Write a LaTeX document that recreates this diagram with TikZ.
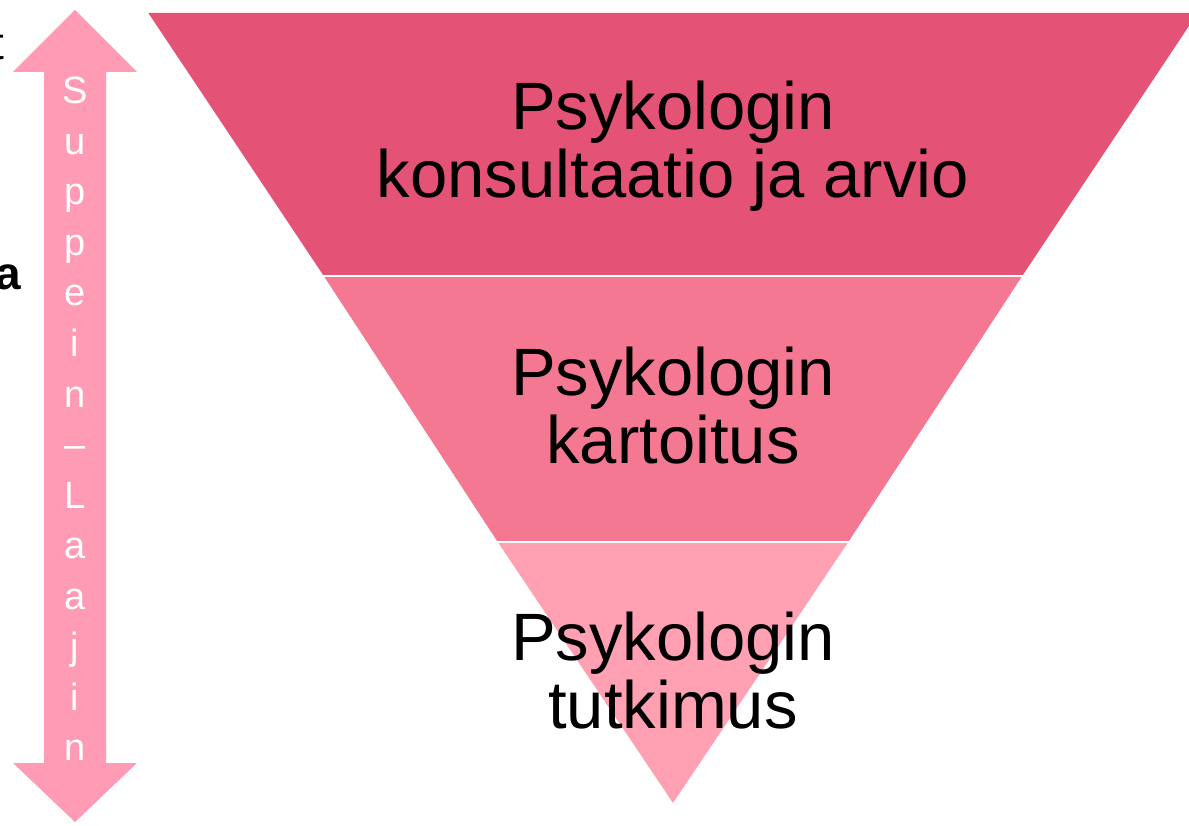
\documentclass[tikz,border=0pt]{standalone}
\usepackage{fontspec}
\setmainfont{Liberation Sans}
\usepackage{tikz}

\definecolor{bandtop}{HTML}{E45275}
\definecolor{bandmid}{HTML}{F47892}
\definecolor{bandlow}{HTML}{FFA1B3}
\definecolor{arrowpink}{HTML}{FF9BB4}

\begin{document}
\begin{tikzpicture}[x=1pt,y=-1pt]

                \tikzset{level text/.style={align=center, anchor=base, font=\fontsize{67}{68}\selectfont},
                         arrow letter/.style={anchor=base, text=white, font=\fontsize{38}{40}\selectfont},
                         cut text/.style={anchor=base east, font=\fontsize{46}{50}\selectfont}}

                \path[use as bounding box, clip] (0,0) rectangle (1189,826);

                % funnel levels
                \coordinate (tip) at (673,803);
                \fill[bandtop] (148.4,13) -- (1197.6,13) -- (1022.2,276) -- (323.8,276) -- cycle;
                \fill[bandmid] (323.8,276) -- (1022.2,276) -- (848.6,541.5) -- (497.4,541.5) -- cycle;
                \fill[bandlow] (497.4,541.5) -- (848.6,541.5) -- (tip) -- cycle;
                \draw[white, line width=2pt] (300,276) -- (1050,276);
                \draw[white, line width=2pt] (480,541.5) -- (870,541.5);

                \node[level text] (top) at (673,198) {Psykologin\\konsultaatio ja arvio};
                \node[level text] (mid) at (673,463) {Psykologin\\kartoitus};
                \node[level text] (low) at (673,728) {Psykologin\\tutkimus};

                % double arrow
                \fill[arrowpink] (75,10) -- (137,72) -- (106,72) -- (106,763) -- (137,763)
                                 -- (75,822) -- (13,763) -- (44,763) -- (44,72) -- (13,72) -- cycle;
                \foreach \c [count=\i from 0] in {S,u,p,p,e,i,n,–,L,a,a,j,i,n}
                    \node[arrow letter] (l\i) at (75,104+50.5*\i) {\c};

                % clipped text on the left
                \node[cut text] (cutA) at (8,60) {t};
                \node[cut text] (cutB) at (6,110) {n};
                \node[cut text, font=\fontsize{46}{50}\selectfont\bfseries] (cutC) at (25,290) {pa};
            \end{tikzpicture}
\end{document}
